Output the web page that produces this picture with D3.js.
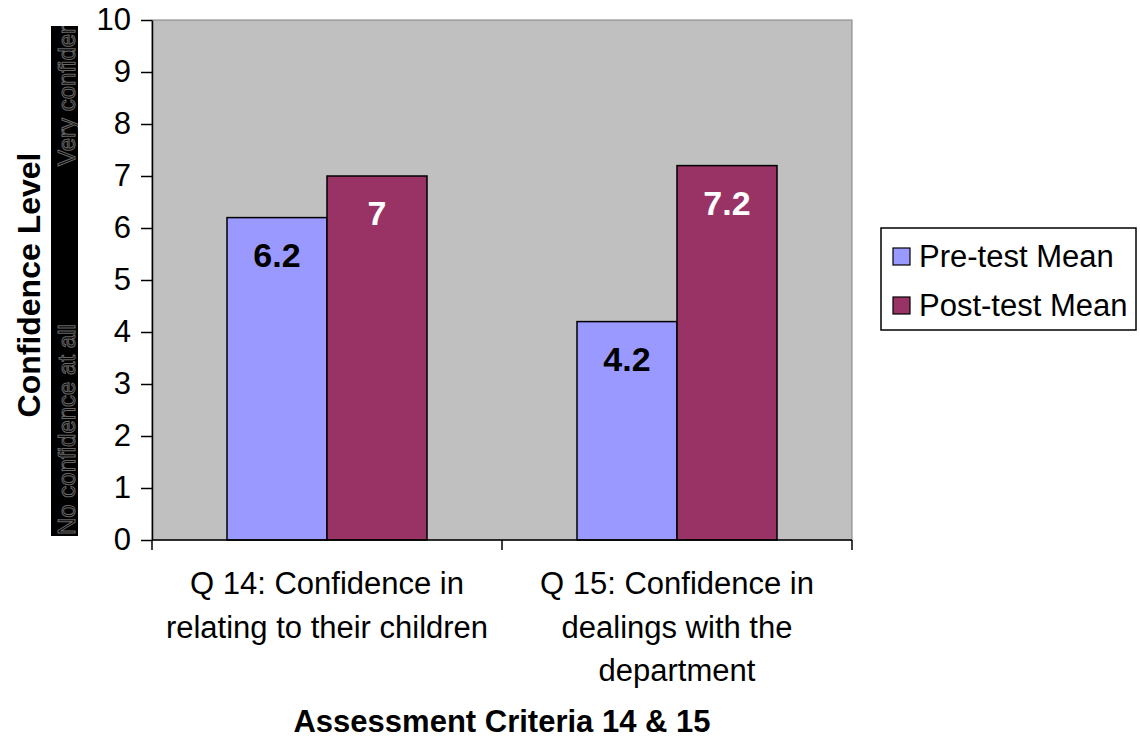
<!DOCTYPE html>
<html>
<head>
<meta charset="utf-8">
<script src="https://cdn.jsdelivr.net/npm/d3@7"></script>
<style>
  body { margin: 0; background: #fff; }
  text { font-family: "Liberation Sans", Arial, sans-serif; }
</style>
</head>
<body>
<div id="chart"></div>
<script>
var width = 1140;
var height = 740;

var categories = [
  ["Q 14: Confidence in", "relating to their children"],
  ["Q 15: Confidence in", "dealings with the", "department"]
];
var seriesNames = ["Pre-test Mean", "Post-test Mean"];
var preTest = [6.2, 4.2];
var postTest = [7, 7.2];
var yTicks = [0, 1, 2, 3, 4, 5, 6, 7, 8, 9, 10];
var colors = ["#9999FF", "#993366"];
var labelColors = ["#000", "#fff"];

var plotLeft = 152, plotRight = 852, plotTop = 20, plotBottom = 540;

var svg = d3.select("#chart")
  .append("svg")
  .attr("width", width)
  .attr("height", height);

// plot area
svg.append("rect")
  .attr("x", plotLeft)
  .attr("y", plotTop)
  .attr("width", plotRight - plotLeft)
  .attr("height", plotBottom - plotTop)
  .attr("fill", "#C0C0C0")
  .attr("stroke", "#808080")
  .attr("stroke-width", 1);

var x0 = d3.scaleBand()
  .domain(d3.range(categories.length))
  .range([plotLeft, plotRight]);

var x1 = d3.scaleBand()
  .domain([0, 1])
  .range([0, 200]);

var y = d3.scaleLinear()
  .domain([0, 10])
  .range([plotBottom, plotTop]);

var groups = svg.selectAll(".grp")
  .data(d3.range(categories.length))
  .enter()
  .append("g")
  .attr("transform", function (i) { return "translate(" + (x0(i) + (x0.bandwidth() - 200) / 2) + ",0)"; });

groups.selectAll("rect")
  .data(function (i) { return [preTest[i], postTest[i]]; })
  .enter()
  .append("rect")
  .attr("x", function (d, j) { return x1(j); })
  .attr("y", function (d) { return y(d); })
  .attr("width", x1.bandwidth())
  .attr("height", function (d) { return plotBottom - y(d); })
  .attr("fill", function (d, j) { return colors[j]; })
  .attr("stroke", "#000")
  .attr("stroke-width", 1.5);

groups.selectAll(".lbl")
  .data(function (i) { return [preTest[i], postTest[i]]; })
  .enter()
  .append("text")
  .attr("x", function (d, j) { return x1(j) + x1.bandwidth() / 2; })
  .attr("y", function (d) { return y(d) + 49; })
  .attr("text-anchor", "middle")
  .attr("font-size", 34)
  .attr("font-weight", "bold")
  .attr("fill", function (d, j) { return labelColors[j]; })
  .text(function (d) { return d; });

// y axis
var yAxis = svg.append("g")
  .attr("transform", "translate(" + plotLeft + ",0)")
  .call(d3.axisLeft(y).tickValues(yTicks).tickSize(11).tickPadding(10).tickSizeOuter(0));
yAxis.select(".domain").attr("stroke", "#000").attr("stroke-width", 1.5);
yAxis.selectAll(".tick line").attr("stroke", "#000").attr("stroke-width", 1.5);
yAxis.selectAll("text")
  .attr("font-size", 31)
  .attr("fill", "#000")
  .style("font-family", "Liberation Sans, Arial, sans-serif");

// x axis
var xAxis = svg.append("g")
  .attr("transform", "translate(0," + plotBottom + ")");
xAxis.append("line")
  .attr("x1", plotLeft).attr("x2", plotRight)
  .attr("y1", 0).attr("y2", 0)
  .attr("stroke", "#000").attr("stroke-width", 1.5);
xAxis.selectAll(".xt")
  .data(d3.range(categories.length + 1))
  .enter()
  .append("line")
  .attr("x1", function (i) { return i < categories.length ? x0(i) : plotRight; })
  .attr("x2", function (i) { return i < categories.length ? x0(i) : plotRight; })
  .attr("y1", 0).attr("y2", 10)
  .attr("stroke", "#000").attr("stroke-width", 1.5);

var catText = svg.selectAll(".cat")
  .data(categories)
  .enter()
  .append("text")
  .attr("text-anchor", "middle")
  .attr("font-size", 31)
  .attr("fill", "#000");
catText.selectAll("tspan")
  .data(function (d, i) { return d.map(function (s) { return { s: s, i: i }; }); })
  .enter()
  .append("tspan")
  .attr("x", function (d) { return x0(d.i) + x0.bandwidth() / 2; })
  .attr("y", function (d, k) { return 594 + k * 43.5; })
  .text(function (d) { return d.s; });

// axis titles
svg.append("text")
  .attr("x", (plotLeft + plotRight) / 2)
  .attr("y", 732)
  .attr("text-anchor", "middle")
  .attr("font-size", 31)
  .attr("font-weight", "bold")
  .text("Assessment Criteria 14 & 15");

svg.append("text")
  .attr("transform", "translate(40," + 285 + ") rotate(-90)")
  .attr("text-anchor", "middle")
  .attr("font-size", 32)
  .attr("font-weight", "bold")
  .text("Confidence Level");

// black strip with scale notes
svg.append("clipPath").attr("id", "stripClip")
  .append("rect").attr("x", 51).attr("y", 26).attr("width", 27).attr("height", 510);
svg.append("rect")
  .attr("x", 51).attr("y", 26)
  .attr("width", 27).attr("height", 510)
  .attr("fill", "#000");
var strip = svg.append("g").attr("clip-path", "url(#stripClip)");
strip.append("text")
  .attr("transform", "translate(75,535) rotate(-90)")
  .attr("text-anchor", "start")
  .attr("font-size", 24)
  .attr("fill", "#000")
  .attr("stroke", "#666")
  .attr("stroke-width", 1)
  .text("No confidence at all");
strip.append("text")
  .attr("transform", "translate(75,166) rotate(-90)")
  .attr("text-anchor", "start")
  .attr("font-size", 24)
  .attr("fill", "#000")
  .attr("stroke", "#666")
  .attr("stroke-width", 1)
  .text("Very confident");

// legend
var legend = svg.append("g");
legend.append("rect")
  .attr("x", 881).attr("y", 228)
  .attr("width", 255).attr("height", 102)
  .attr("fill", "#fff")
  .attr("stroke", "#000")
  .attr("stroke-width", 1.5);
var items = legend.selectAll(".item")
  .data(seriesNames)
  .enter()
  .append("g")
  .attr("transform", function (d, i) { return "translate(0," + (i * 49) + ")"; });
items.append("rect")
  .attr("x", 893).attr("y", 248)
  .attr("width", 17).attr("height", 17)
  .attr("fill", function (d, i) { return colors[i]; })
  .attr("stroke", "#000")
  .attr("stroke-width", 1.2);
items.append("text")
  .attr("x", 919).attr("y", 267)
  .attr("font-size", 31)
  .text(function (d) { return d; });
</script>
</body>
</html>
